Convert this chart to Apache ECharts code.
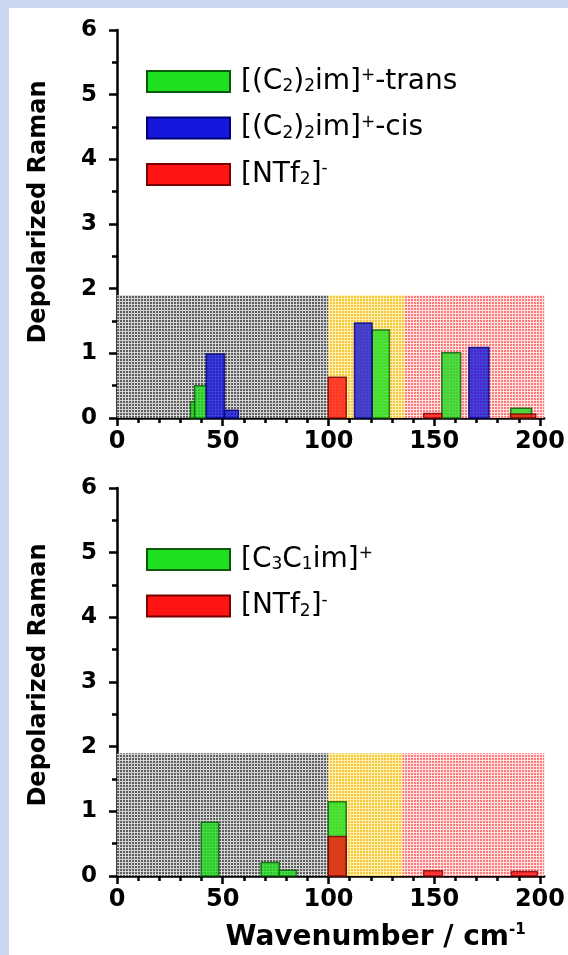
<!DOCTYPE html>
<html>
<head>
<meta charset="utf-8">
<script src="https://cdn.jsdelivr.net/npm/echarts@6/dist/echarts.min.js"></script>
<style>
  html, body { margin: 0; padding: 0; width: 568px; height: 955px; background: #c9d7ef; overflow: hidden; }
  #chart { position: absolute; left: 9px; top: 8px; width: 559px; height: 947px; background: #fff; }
</style>
</head>
<body>
<div id="chart"></div>
<script>
// tick values
const xLabels = [0, 50, 100, 150, 200];
const xMinorTicks = [10, 20, 30, 40, 60, 70, 80, 90, 110, 120, 130, 140, 160, 170, 180, 190];

// shaded ranges: edges along wavenumber, common top
const topRegionEdges = [0, 100, 136, 202];
const bottomRegionEdges = [0, 100, 135, 202];
const regionTop = 1.9;

// bars: [from, to, value]
const topTrans = [[34.8, 36.7, 0.25], [36.7, 42.2, 0.5], [120.6, 128.8, 1.36], [153.6, 162.5, 1.01], [186.2, 196, 0.15]];
const topCis = [[42.2, 50.8, 0.99], [50.8, 57.4, 0.12], [112.3, 120.6, 1.47], [166.4, 175.9, 1.09]];
const topAnion = [[99.9, 108.4, 0.63], [145, 153.6, 0.07], [186, 198, 0.06]];
const bottomCation = [[39.8, 48.1, 0.83], [68.1, 76.7, 0.21], [76.7, 84.8, 0.09], [99.9, 108.4, 1.15]];
const bottomAnion = [[99.9, 108.4, 0.61], [145, 153.9, 0.08], [186.5, 198.7, 0.07]];

const TRANS = '[(C2)2im]+-trans';
const CIS = '[(C2)2im]+-cis';
const ANION = '[NTf2]-';
const CATION = '[C3C1im]+';

const legendText = {};
legendText[TRANS] = '{t|[(C}{b|2}{t|)}{b|2}{t|im]}{p|+}{t|-trans}';
legendText[CIS] = '{t|[(C}{b|2}{t|)}{b|2}{t|im]}{p|+}{t|-cis}';
legendText[ANION] = '{t|[NTf}{b|2}{t|]}{p|-}';
legendText[CATION] = '{t|[C}{b|3}{t|C}{b|1}{t|im]}{p|+}';

function tile(bg, fg) {
    const c = document.createElement('canvas');
    c.width = 3; c.height = 3;
    const g = c.getContext('2d');
    g.fillStyle = bg; g.fillRect(0, 0, 3, 3);
    g.fillStyle = fg; g.fillRect(0, 0, 2, 2);
    return { image: c, repeat: 'repeat' };
}
const patterns = [
    tile('#d4d4d4', '#5e5e5e'),
    tile('#fff2b0', '#f7c63c'),
    tile('#ffe2e2', '#ff7a7a')
];

const colors = {
    green: { fill: '#1fe01f', stroke: '#0b5a0b' },
    blue: { fill: '#1616dc', stroke: '#000070' },
    red: { fill: '#ff1414', stroke: '#780000' }
};

const font = 'DejaVu Sans';

function regionSeries(edges, gi) {
    const data = [];
    for (let i = 0; i < edges.length - 1; i++) data.push([edges[i], edges[i + 1], regionTop]);
    return {
        type: 'custom', xAxisIndex: gi * 2, yAxisIndex: gi, silent: true, z: 1,
        data: data,
        encode: { x: [0, 1], y: 2 },
        renderItem: (params, api) => {
            const p0 = api.coord([api.value(0), api.value(2)]);
            const p1 = api.coord([api.value(1), 0]);
            return {
                type: 'rect',
                shape: { x: p0[0], y: p0[1], width: p1[0] - p0[0], height: p1[1] - p0[1] },
                style: { fill: patterns[params.dataIndex] }
            };
        }
    };
}

function barSeries(name, data, c, gi) {
    return {
        name: name, type: 'custom', xAxisIndex: gi * 2, yAxisIndex: gi, z: 3,
        itemStyle: { color: c.fill, borderColor: c.stroke, borderWidth: 1.5 },
        data: data,
        encode: { x: [0, 1], y: 2 },
        renderItem: (params, api) => {
            const p0 = api.coord([api.value(0), api.value(2)]);
            const p1 = api.coord([api.value(1), 0]);
            return {
                type: 'rect',
                shape: { x: p0[0], y: p0[1], width: p1[0] - p0[0], height: p1[1] - p0[1] },
                style: { fill: c.fill, stroke: c.stroke, lineWidth: 1.5, opacity: 0.8 }
            };
        }
    };
}

const grids = [
    { left: 108, top: 22, width: 429, height: 388 },
    { left: 108, top: 480, width: 429, height: 388 }
];

function xAxes(gi) {
    const main = {
        type: 'value', gridIndex: gi, min: 0, max: 202, position: 'bottom',
        splitLine: { show: false },
        axisLine: { lineStyle: { color: '#000', width: 2.5 } },
        axisTick: { customValues: xLabels, length: 8, lineStyle: { color: '#000', width: 2.5 } },
        axisLabel: { customValues: xLabels, margin: 12, color: '#000', fontFamily: font, fontWeight: 'bold', fontSize: 24 }
    };
    if (gi === 1) {
        main.name = '{a|Wavenumber / cm}{s|-1}';
        main.nameLocation = 'middle';
        main.nameGap = 47;
        main.nameTextStyle = {
            padding: [0, 0, 0, 90],
            rich: {
                a: { fontFamily: font, fontWeight: 'bold', fontSize: 28, color: '#000', lineHeight: 30 },
                s: { fontFamily: font, fontWeight: 'bold', fontSize: 15, color: '#000', lineHeight: 16, verticalAlign: 'top' }
            }
        };
    }
    const minor = {
        type: 'value', gridIndex: gi, min: 0, max: 202, position: 'bottom',
        splitLine: { show: false },
        axisLine: { show: false },
        axisTick: { customValues: xMinorTicks, length: 5, lineStyle: { color: '#000', width: 2.5 } },
        axisLabel: { show: false }
    };
    return [main, minor];
}

function yAxis(gi, shift) {
    return {
        type: 'value', gridIndex: gi, min: 0, max: 6, interval: 1,
        splitLine: { show: false },
        axisLine: { show: true, lineStyle: { color: '#000', width: 2.5 } },
        axisTick: { show: true, length: 8, lineStyle: { color: '#000', width: 2.5 } },
        minorTick: { show: true, splitNumber: 2, length: 5, lineStyle: { color: '#000', width: 2.5 } },
        axisLabel: { margin: 20, color: '#000', fontFamily: font, fontWeight: 'bold', fontSize: 23 },
        name: 'Depolarized Raman', nameLocation: 'middle', nameGap: 66,
        nameTextStyle: { fontFamily: font, fontWeight: 'bold', fontSize: 24, color: '#000', padding: [0, 0, 0, shift] }
    };
}

const legendRich = {
    t: { fontFamily: font, fontSize: 28, color: '#000', lineHeight: 28 },
    b: { fontFamily: font, fontSize: 17, color: '#000', lineHeight: 8, verticalAlign: 'bottom' },
    p: { fontFamily: font, fontSize: 17, color: '#000', lineHeight: 12, verticalAlign: 'top' }
};

function legend(top, names) {
    return {
        orient: 'vertical', left: 137, top: top, data: names, padding: 0,
        icon: 'rect', itemWidth: 83, itemHeight: 21, itemGap: 18.5,
        selectedMode: false,
        formatter: (n) => legendText[n],
        textStyle: { padding: [0, 0, 0, 6], rich: legendRich }
    };
}

const chart = echarts.init(document.getElementById('chart'));
chart.setOption({
    animation: false,
    backgroundColor: '#fff',
    grid: grids,
    xAxis: xAxes(0).concat(xAxes(1)),
    yAxis: [yAxis(0, 24), yAxis(1, 14)],
    legend: [legend(59.5, [TRANS, CIS, ANION]), legend(537.5, [CATION, ANION])],
    series: [
        regionSeries(topRegionEdges, 0),
        barSeries(TRANS, topTrans, colors.green, 0),
        barSeries(CIS, topCis, colors.blue, 0),
        barSeries(ANION, topAnion, colors.red, 0),
        regionSeries(bottomRegionEdges, 1),
        barSeries(CATION, bottomCation, colors.green, 1),
        barSeries(ANION, bottomAnion, colors.red, 1)
    ]
});
</script>
</body>
</html>
